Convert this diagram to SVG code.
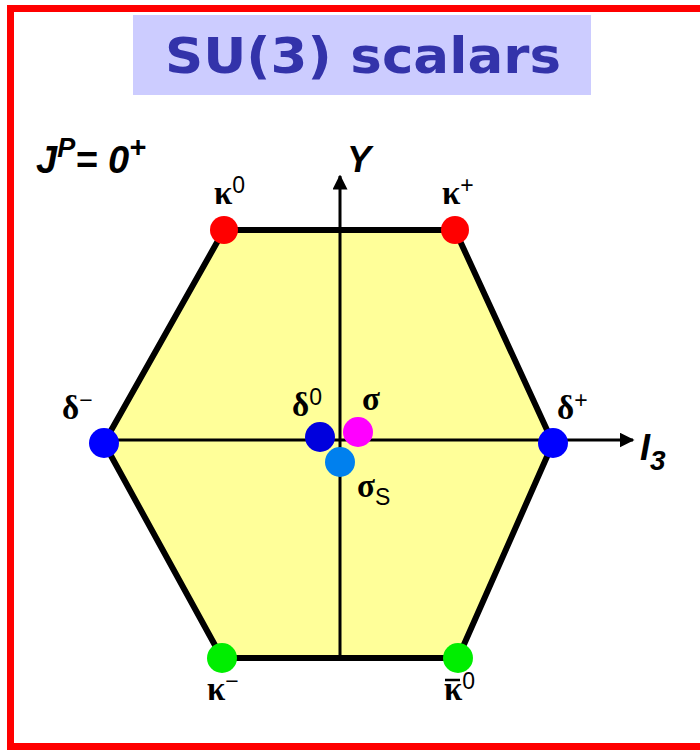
<svg xmlns="http://www.w3.org/2000/svg" width="700" height="750" viewBox="0 0 700 750">
<style>
.lbl{font-family:"Liberation Serif",serif;font-size:33px;font-weight:bold;fill:#000}
.sup{font-family:"Liberation Sans",sans-serif;font-size:23px;font-weight:normal;fill:#000}
.ax{stroke:#000;stroke-width:3;fill:none}
</style>
<defs>
<marker id="arr" viewBox="0 0 10 10" refX="9" refY="5" markerWidth="5" markerHeight="5" orient="auto" markerUnits="strokeWidth">
<path d="M0,0 L10,5 L0,10 z" fill="#000"/>
</marker>
</defs>
<rect x="0" y="0" width="700" height="750" fill="#fff"/>
<rect x="10.5" y="8.5" width="700" height="738" fill="none" stroke="#ff0000" stroke-width="7"/>
<g id="title">
<rect x="133" y="15" width="458" height="80" fill="#ccccff"/>
<text x="165" y="73" textLength="396" lengthAdjust="spacingAndGlyphs" font-family="DejaVu Sans,sans-serif" font-weight="bold" font-size="50" fill="#3333aa">SU(3) scalars</text>
</g>
<g id="jp">
<text x="36" y="173" font-family="Liberation Sans,sans-serif" font-weight="bold" font-style="italic" font-size="38">J<tspan dy="-16" font-size="27">P</tspan><tspan dy="16">= 0</tspan><tspan dy="-16" font-size="29">+</tspan></text>
</g>
<g id="hexagon">
<polygon points="224,230 455,230 553,443 458,658 222,658 104,443" fill="#ffff99" stroke="#000" stroke-width="6" stroke-linejoin="round"/>
</g>
<g id="connectors">
<line class="ax" x1="340" y1="660" x2="340" y2="176" marker-end="url(#arr)"/>
<line class="ax" x1="104" y1="440" x2="633" y2="440" marker-end="url(#arr)"/>
</g>
<g id="axis-labels">
<text x="347" y="172" font-family="Liberation Sans,sans-serif" font-weight="bold" font-style="italic" font-size="36">Y</text>
<text x="640" y="460" font-family="Liberation Sans,sans-serif" font-weight="bold" font-style="italic" font-size="36">I<tspan dy="10" font-size="28">3</tspan></text>
</g>
<g id="kappa0">
<circle cx="224" cy="230" r="14" fill="#ff0000"/>
<text class="lbl" x="214" y="204">κ<tspan class="sup" dy="-11">0</tspan></text>
</g>
<g id="kappaplus">
<circle cx="455" cy="230" r="14" fill="#ff0000"/>
<text class="lbl" x="442" y="204">κ<tspan class="sup" dy="-11">+</tspan></text>
</g>
<g id="deltaminus">
<circle cx="104" cy="443" r="15" fill="#0000ff"/>
<text class="lbl" x="62" y="419">δ<tspan class="sup" dy="-11">−</tspan></text>
</g>
<g id="deltaplus">
<circle cx="553" cy="443" r="15" fill="#0000ff"/>
<text class="lbl" x="557" y="419">δ<tspan class="sup" dy="-11">+</tspan></text>
</g>
<g id="delta0">
<circle cx="320" cy="437" r="15" fill="#0000dd"/>
<text class="lbl" x="292" y="416">δ<tspan class="sup" dy="-11">0</tspan></text>
</g>
<g id="sigma">
<circle cx="358" cy="432" r="15" fill="#ff00ff"/>
<text class="lbl" x="362" y="410">σ</text>
</g>
<g id="sigmaS">
<circle cx="340" cy="462" r="15" fill="#0080ee"/>
<text class="lbl" x="357" y="497">σ<tspan class="sup" dy="8">S</tspan></text>
</g>
<g id="kappaminus">
<circle cx="222" cy="658" r="15" fill="#00ee00"/>
<text class="lbl" x="207" y="700">κ<tspan class="sup" dy="-11">−</tspan></text>
</g>
<g id="antikappa0">
<circle cx="458" cy="658" r="15" fill="#00ee00"/>
<text class="lbl" x="444" y="700">κ<tspan class="sup" dy="-11">0</tspan></text>
<line x1="445" y1="680" x2="460" y2="680" stroke="#000" stroke-width="2.5"/>
</g>
</svg>
